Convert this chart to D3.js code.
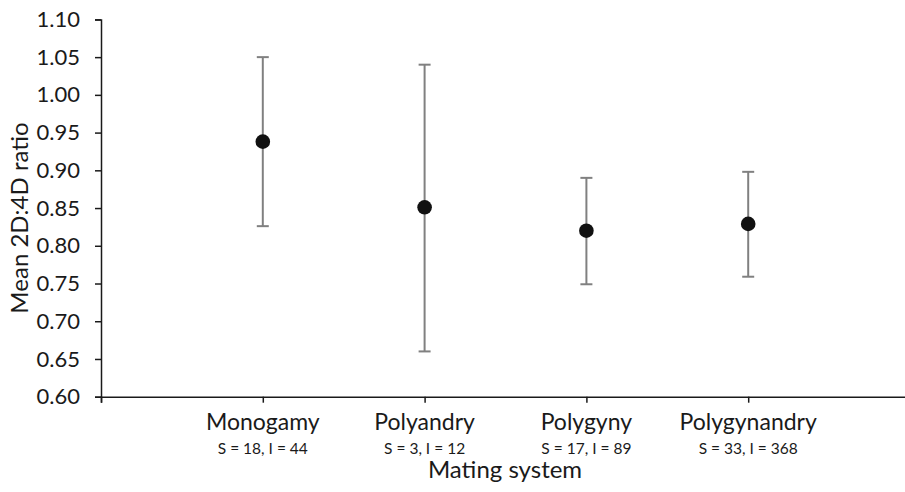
<!DOCTYPE html>
<html>
<head>
<meta charset="utf-8">
<script src="https://cdn.jsdelivr.net/npm/d3@7"></script>
<style>
  body { margin: 0; background: #fff; }
  text { font-family: Lato, "Open Sans", sans-serif; fill: #1a1a1a; }
</style>
</head>
<body>
<svg id="chart" width="905" height="492"></svg>
<script>
// mating systems on the x axis
var categories = ["Monogamy", "Polyandry", "Polygyny", "Polygynandry"];
var sampleLabels = ["S = 18, I = 44", "S = 3, I = 12", "S = 17, I = 89", "S = 33, I = 368"];
// mean 2D:4D and error bar ends
var means = [0.938, 0.851, 0.820, 0.829];
var upper = [1.050, 1.040, 0.890, 0.898];
var lower = [0.826, 0.660, 0.749, 0.759];
var yTicks = [0.60, 0.65, 0.70, 0.75, 0.80, 0.85, 0.90, 0.95, 1.00, 1.05, 1.10];

var svg = d3.select("#chart");
var plotLeft = 101, plotTop = 19.4, plotBottom = 396.7;

// categories sit at x = 1..4 on a 0..5 value axis, like the original
var x = d3.scaleLinear().domain([0, 5]).range([plotLeft, plotLeft + 5 * 161.8]);
var y = d3.scaleLinear().domain([0.6, 1.1]).range([plotBottom, plotTop]);

// y axis
var yAxis = svg.append("g").attr("transform", "translate(" + plotLeft + ",0)")
    .call(d3.axisLeft(y).tickValues(yTicks).tickFormat(d3.format(".2f")).tickSizeOuter(0).tickSize(6).tickPadding(15));
yAxis.select(".domain").attr("stroke", "#1a1a1a").attr("stroke-width", 1.5);
yAxis.selectAll(".tick line").attr("stroke", "#1a1a1a").attr("stroke-width", 1.5);
yAxis.selectAll(".tick text").style("font-size", "22px").style("font-family", "Lato, sans-serif").attr("fill", "#1a1a1a");

// x axis
var xAxis = svg.append("g").attr("transform", "translate(0," + plotBottom + ")")
    .call(d3.axisBottom(x).tickValues([0, 1, 2, 3, 4, 5]).tickFormat("").tickSizeOuter(0).tickSize(6));
xAxis.select(".domain").attr("stroke", "#1a1a1a").attr("stroke-width", 1.5);
xAxis.selectAll(".tick line").attr("stroke", "#1a1a1a").attr("stroke-width", 1.5);

// category labels
svg.selectAll(".cat").data(categories).enter().append("text")
    .attr("class", "cat")
    .attr("x", function(d, i) { return x(i + 1); })
    .attr("y", 430)
    .attr("text-anchor", "middle")
    .style("font-size", "23px")
    .text(function(d) { return d; });

svg.selectAll(".sub").data(sampleLabels).enter().append("text")
    .attr("class", "sub")
    .attr("x", function(d, i) { return x(i + 1); })
    .attr("y", 454)
    .attr("text-anchor", "middle")
    .style("font-size", "15.5px")
    .text(function(d) { return d; });

// axis titles
svg.append("text")
    .attr("x", 505)
    .attr("y", 478)
    .attr("text-anchor", "middle")
    .style("font-size", "24px")
    .text("Mating system");

svg.append("text")
    .attr("transform", "translate(28,218) rotate(-90)")
    .attr("text-anchor", "middle")
    .style("font-size", "24px")
    .text("Mean 2D:4D ratio");

// error bars
var bars = svg.append("g").attr("stroke", "#808080").attr("stroke-width", 2);
bars.selectAll(".stem").data(means).enter().append("line")
    .attr("x1", function(d, i) { return x(i + 1); })
    .attr("x2", function(d, i) { return x(i + 1); })
    .attr("y1", function(d, i) { return y(upper[i]); })
    .attr("y2", function(d, i) { return y(lower[i]); });
bars.selectAll(".capTop").data(upper).enter().append("line")
    .attr("x1", function(d, i) { return x(i + 1) - 6; })
    .attr("x2", function(d, i) { return x(i + 1) + 6; })
    .attr("y1", function(d) { return y(d); })
    .attr("y2", function(d) { return y(d); });
bars.selectAll(".capBot").data(lower).enter().append("line")
    .attr("x1", function(d, i) { return x(i + 1) - 6; })
    .attr("x2", function(d, i) { return x(i + 1) + 6; })
    .attr("y1", function(d) { return y(d); })
    .attr("y2", function(d) { return y(d); });

// means
svg.selectAll(".pt").data(means).enter().append("circle")
    .attr("cx", function(d, i) { return x(i + 1); })
    .attr("cy", function(d) { return y(d); })
    .attr("r", 7.3)
    .attr("fill", "#111");
</script>
</body>
</html>
